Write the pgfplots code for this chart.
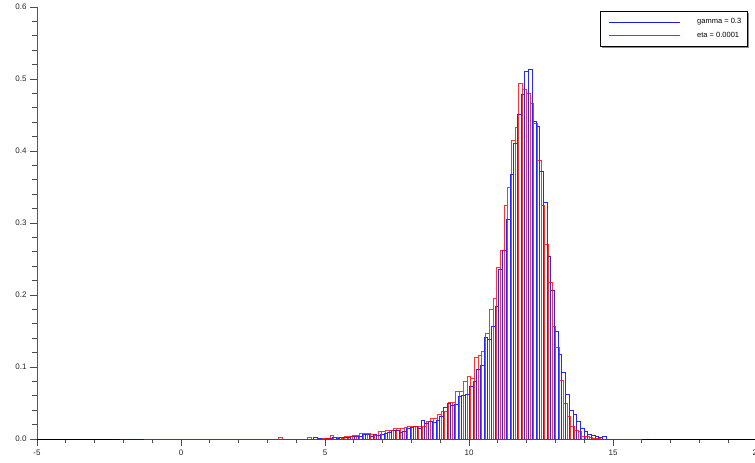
\documentclass[border=0pt]{standalone}
\usepackage{fontspec}
\setmainfont{Liberation Sans}
\usepackage{pgfplots}
\pgfplotsset{compat=1.18}
\usepackage{pgfplotstable}

% left bin edge and normalised frequency, gamma = 0.3
\pgfplotstableread{
x y
4.099 0
4.2275 0
4.356 0
4.4845 0
4.613 0.002
4.7415 0.001
4.870 0
4.9985 0.001
5.127 0.001
5.2555 0.0025
5.384 0.001
5.5125 0.0025
5.641 0.002
5.7695 0.002
5.898 0.003
6.0265 0.003
6.155 0.004
6.2835 0.0057
6.412 0.0057
6.5405 0.004
6.669 0.0057
6.7975 0.005
6.926 0.006
7.0545 0.0075
7.183 0.009
7.3115 0.0115
7.440 0.0115
7.5685 0.009
7.697 0.010
7.8255 0.015
7.954 0.016
8.0825 0.017
8.211 0.0143
8.3395 0.0255
8.468 0.021
8.5965 0.024
8.725 0.0227
8.8535 0.0255
8.982 0.031
9.1105 0.044
9.239 0.050
9.3675 0.047
9.496 0.0486
9.6245 0.059
9.753 0.061
9.8815 0.062
10.010 0.0727
10.1385 0.0806
10.267 0.097
10.3955 0.102
10.524 0.141
10.6525 0.138
10.781 0.157
10.9095 0.184
11.038 0.236
11.1665 0.2625
11.295 0.305
11.4235 0.367
11.552 0.41
11.6805 0.451
11.809 0.479
11.9375 0.511
12.066 0.513
12.1945 0.441
12.323 0.434
12.4515 0.371
12.580 0.328
12.7085 0.253
12.837 0.207
12.9655 0.150
13.094 0.117
13.2225 0.0926
13.351 0.062
13.4795 0.040
13.608 0.034
13.7365 0.024
13.865 0.0148
13.9935 0.010
14.122 0.007
14.2505 0.0055
14.379 0.003
14.5075 0.002
14.636 0.004
14.7645 0
}\gammahist

% left bin edge and normalised frequency, eta = 0.0001
\pgfplotstableread{
x y
3.377 0.002
3.5055 0
3.634 0
3.7625 0
3.891 0
4.0195 0
4.148 0
4.2765 0
4.405 0.002
4.5335 0
4.662 0
4.7905 0
4.919 0.001
5.0475 0.001
5.176 0.005
5.3045 0.002
5.433 0.002
5.5615 0.001
5.690 0.003
5.8185 0.004
5.947 0.005
6.0755 0.005
6.204 0.008
6.3325 0.0075
6.461 0.0075
6.5895 0.006
6.718 0.005
6.8465 0.0101
6.975 0.0101
7.1035 0.0125
7.232 0.0125
7.3605 0.0143
7.489 0.0143
7.6175 0.015
7.746 0.016
7.8745 0.017
8.003 0.017
8.1315 0.017
8.260 0.018
8.3885 0.017
8.517 0.024
8.6455 0.0287
8.774 0.0287
8.9025 0.034
9.031 0.039
9.1595 0.039
9.288 0.051
9.4165 0.051
9.545 0.066
9.6735 0.066
9.802 0.0796
9.9305 0.0875
10.059 0.084
10.1875 0.114
10.316 0.116
10.4445 0.122
10.573 0.147
10.7015 0.180
10.830 0.195
10.9585 0.238
11.087 0.2625
11.2155 0.324
11.344 0.35
11.4725 0.415
11.601 0.433
11.7295 0.494
11.858 0.486
11.9865 0.48
12.115 0.466
12.2435 0.438
12.372 0.387
12.5005 0.325
12.629 0.27
12.7575 0.218
12.886 0.157
13.0145 0.127
13.143 0.081
13.2715 0.0495
13.400 0.032
13.5285 0.018
13.657 0.0125
13.7855 0.010
13.914 0.004
14.0425 0.003
14.171 0.002
14.2995 0.001
14.428 0.001
14.5565 0
}\etahist

\begin{document}
\begin{tikzpicture}
\begin{axis}[
  at={(0pt,0pt)}, anchor=south west,
  scale only axis, width=720pt, height=432pt,
  xmin=-5, xmax=20, ymin=0, ymax=0.6,
  axis x line=bottom, axis y line=left,
  axis line style={-, line width=0.8pt},
  x axis line style={black},
  y axis line style={black!65},
  xtick={-5,0,5,10,15,20},
  ytick={0,0.1,0.2,0.3,0.4,0.5,0.6},
  minor x tick num=4, minor y tick num=4,
  tick align=outside, major tick length=7pt, minor tick length=4.5pt,
  tick style={black!70, line width=0.8pt},
  ticklabel style={font=\fontsize{8}{9}\selectfont, black!85},
  /pgf/number format/assume math mode=true,
  yticklabel style={/pgf/number format/.cd, fixed, fixed zerofill, precision=1},
  clip=false,
]
% histogram outlines
\addplot[ybar interval, draw=blue, draw opacity=0.85, fill=none, line width=0.8pt]
  table[x=x, y=y] {\gammahist};
\addplot[ybar interval, draw=red, draw opacity=0.8, fill=none, line width=0.8pt]
  table[x=x, y=y] {\etahist};
% empty classes along the baseline
\addplot[draw=blue, draw opacity=0.9, line width=0.8pt] coordinates {(-2.12,0) (-1.28,0)};
\addplot[draw=red, draw opacity=0.9, line width=0.8pt] coordinates {(-1.28,0) (16.0,0)};
\end{axis}
% legend box (axis origin at (0,0), 1pt per unit of the 720 x 432 axis frame)
\draw[black!45, line width=1.5pt]
  (711.5pt,425.8pt) -- (711.5pt,391.5pt) -- (565pt,391.5pt);
\draw[black, line width=0.6pt, fill=white] (563pt,392.3pt) rectangle (710pt,427.3pt);
\draw[draw=blue, draw opacity=0.9, line width=0.8pt] (572pt,417pt) -- (643pt,417pt);
\draw[draw=red, draw opacity=0.9, line width=0.8pt] (572pt,404pt) -- (643pt,404pt);
\node[anchor=west, inner sep=0pt, font=\fontsize{7.5}{9}\selectfont] at (660pt,417pt) {gamma = 0.3};
\node[anchor=west, inner sep=0pt, font=\fontsize{7.5}{9}\selectfont] at (660pt,404pt) {eta = 0.0001};
\pgfresetboundingbox
\path (-37pt,-24pt) rectangle (718pt,439pt);
\end{tikzpicture}
\end{document}
